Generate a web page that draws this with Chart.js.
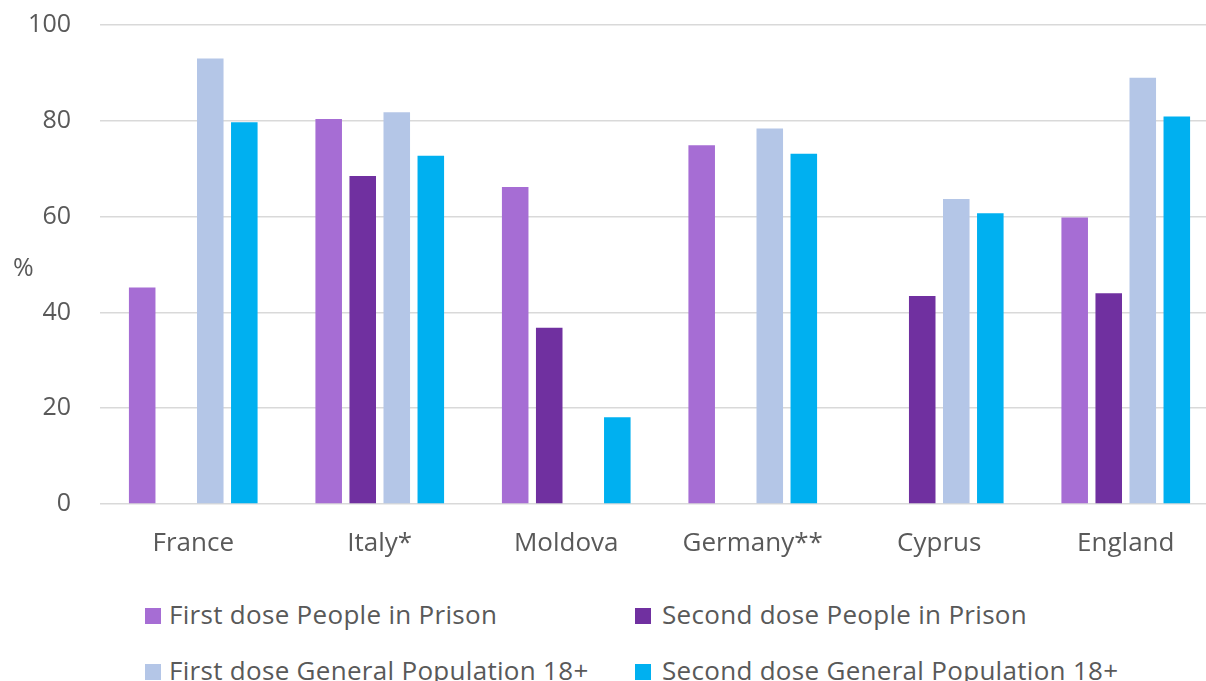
<!DOCTYPE html>
<html><head><meta charset="utf-8">
<script src="https://cdn.jsdelivr.net/npm/chart.js@4"></script>
<style>
html,body{margin:0;padding:0;background:#fff;overflow:hidden;width:1206px;height:681px;}
#wrap{position:absolute;left:0;top:-19px;width:1230px;height:589px;}
#ylab{position:absolute;left:13px;top:254px;font:25px 'Open Sans';line-height:25px;color:#595959;}
.legtxt{position:absolute;font:26px 'Open Sans';line-height:26px;letter-spacing:0.3px;color:#595959;white-space:nowrap;}
.legbox{position:absolute;width:16px;height:16px;}
</style></head><body>
<div id="wrap"><canvas id="c"></canvas></div>
<div id="ylab">%</div>
<div id="legend"></div>
<script>
const categories = ['France', 'Italy*', 'Moldova', 'Germany**', 'Cyprus', 'England'];
const firstDosePrison   = [45.2, 80.4, 66.2, 74.9, null, 59.8];
const secondDosePrison  = [null, 68.5, 36.8, null, 43.4, 44.0];
const firstDoseGeneral  = [93.0, 81.8, null, 78.4, 63.7, 89.0];
const secondDoseGeneral = [79.7, 72.7, 18.1, 73.1, 60.7, 80.9];
const yTickValues = [0, 20, 40, 60, 80, 100];
const seriesNames = ['First dose People in Prison', 'Second dose People in Prison',
                     'First dose General Population 18+', 'Second dose General Population 18+'];
const seriesColors = ['#a66dd4', '#7030a0', '#b4c6e7', '#00b0f0'];
const seriesValues = [firstDosePrison, secondDosePrison, firstDoseGeneral, secondDoseGeneral];

const datasets = seriesNames.map((name, i) => ({
  label: name,
  data: seriesValues[i],
  backgroundColor: seriesColors[i],
  borderWidth: 0,
  categoryPercentage: 0.73,
  barPercentage: 0.78
}));

const chart = new Chart(document.getElementById('c'), {
  type: 'bar',
  data: { labels: categories, datasets },
  options: {
    responsive: true,
    maintainAspectRatio: false,
    animation: false,
    layout: { padding: { top: 6, right: 11, left: 0, bottom: 0 } },
    plugins: { legend: { display: false }, tooltip: { enabled: false } },
    scales: {
      x: {
        grid: { display: false, drawTicks: false },
        border: { display: false },
        ticks: { color: '#595959', font: { family: 'Open Sans', size: 26 }, padding: 24, maxRotation: 0, autoSkip: false },
        afterFit: s => { s.height = 66; }
      },
      y: {
        min: 0, max: 100,
        afterBuildTicks: s => { s.ticks = yTickValues.map(v => ({ value: v })); },
        grid: { color: '#d9d9d9', lineWidth: 1.5, drawTicks: false },
        border: { display: false },
        ticks: { color: '#595959', font: { family: 'Open Sans', size: 25 }, padding: 29 },
        afterFit: s => { s.width = 100; }
      }
    }
  }
});

// HTML legend built from the datasets (2-column grid)
const legend = document.getElementById('legend');
const colBox = [145, 635], colTxt = [169, 662], rowBox = [608, 664], rowTxt = [601, 657];
chart.data.datasets.forEach((ds, i) => {
  const col = i % 2, row = Math.floor(i / 2);
  const b = document.createElement('div');
  b.className = 'legbox';
  b.style.left = colBox[col] + 'px'; b.style.top = rowBox[row] + 'px';
  b.style.background = ds.backgroundColor;
  const t = document.createElement('div');
  t.className = 'legtxt';
  t.style.left = colTxt[col] + 'px'; t.style.top = rowTxt[row] + 'px';
  t.textContent = ds.label;
  legend.appendChild(b); legend.appendChild(t);
});
</script>
</body></html>
